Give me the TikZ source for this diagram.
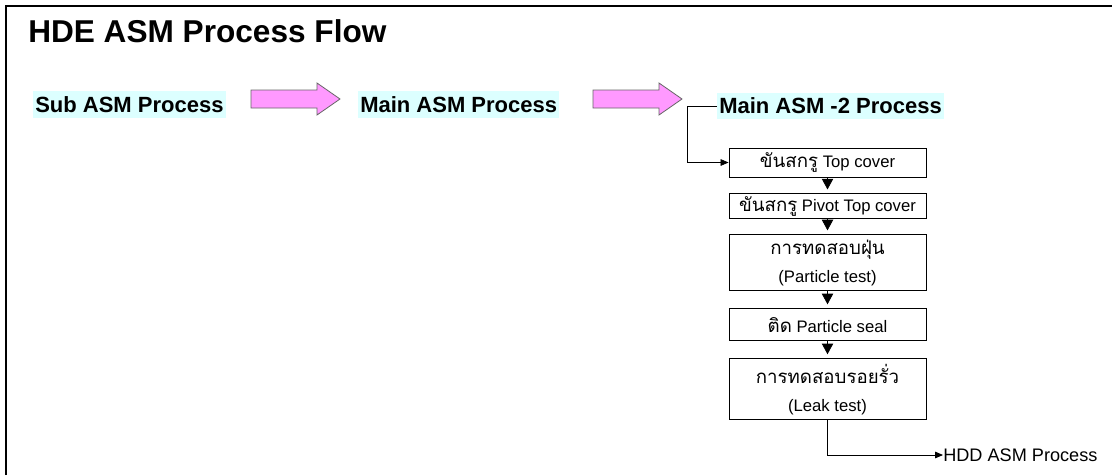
\documentclass[tikz,border=0pt]{standalone}
\usepackage{fontspec}
\setmainfont{Liberation Sans}
\newfontfamily\thaifont[Script=Thai,Scale=1.12]{Loma}
\usetikzlibrary{positioning}
\usetikzlibrary{arrows.meta}
\definecolor{hilite}{RGB}{220,255,255}
\definecolor{pinkfill}{RGB}{255,153,255}
\tikzset{
    heading/.style={
        font=\fontsize{16.5}{20}\selectfont\bfseries,
        fill=hilite,
        inner xsep=1.5pt,
        minimum height=20pt,
        anchor=west
    },
    stepbox/.style={
        draw,
        line width=0.7pt,
        font=\fontsize{12.5}{21}\selectfont,
        align=center,
        minimum width=147.75pt,
        inner sep=1pt
    },
    flow/.style={
        draw,
        line width=0.6pt,
        -{Triangle[length=6pt,width=5pt]}
    },
    drop/.style={
        line width=0.6pt,
        -{Triangle[length=8pt,width=8.5pt]},
        shorten >=3pt
    },
    bigarrow/.style={
        fill=pinkfill,
        draw=black!60,
        line width=0.6pt
    }
}

\begin{document}
\begin{tikzpicture}[x=0.75pt, y=-0.75pt]
                \useasboundingbox (0,0) rectangle (1112,475);
                \draw[line width=1.9pt] (6,475) -- (6,6) -- (1112,6);
                \node[anchor=base west, inner sep=0pt, font=\fontsize{23.7}{28}\selectfont\bfseries] (title) at (28,42) {HDE ASM Process Flow};
                \node[heading] (sub) at (33,104.5) {Sub ASM Process};
                \node[heading] (main) at (358,104.5) {Main ASM Process};
                \node[heading] (main2) at (717,106) {Main ASM -2 Process};
                \foreach \x in {251,593}
                    \draw[bigarrow] (\x,90) -- ++(66,0) -- ++(0,-7) -- ++(23,16) -- ++(-23,16) -- ++(0,-7) -- ++(-66,0) -- cycle;
                \node[stepbox, minimum height=21.75pt] (b1) at (827.5,162.5) {{\thaifont ขันสกรู} Top cover};
                \node[stepbox, minimum height=18.75pt, below=12pt of b1] (b2) {{\thaifont ขันสกรู} Pivot Top cover};
                \node[stepbox, minimum height=42pt, below=11.25pt of b2] (b3) {{\thaifont การทดสอบฝุ่น}\\(Particle test)};
                \node[stepbox, minimum height=24pt, below=12.75pt of b3] (b4) {{\thaifont ติด} Particle seal};
                \node[stepbox, minimum height=45.75pt, below=12.75pt of b4] (b5) {{\thaifont การทดสอบรอยรั่ว}\\(Leak test)};
                \node[anchor=west, inner sep=0pt, font=\fontsize{13.6}{16}\selectfont] (hdd) at (943,455) {HDD ASM Process};
                \draw[flow] (main2.west) -- ++(-30,0) |- (b1.west);
                \foreach \a/\b in {b1/b2, b2/b3, b3/b4, b4/b5}
                    \draw[drop] (\a.south) -- (\b.north);
                \draw[flow] (b5.south) |- (hdd.west);
            \end{tikzpicture}
\end{document}
